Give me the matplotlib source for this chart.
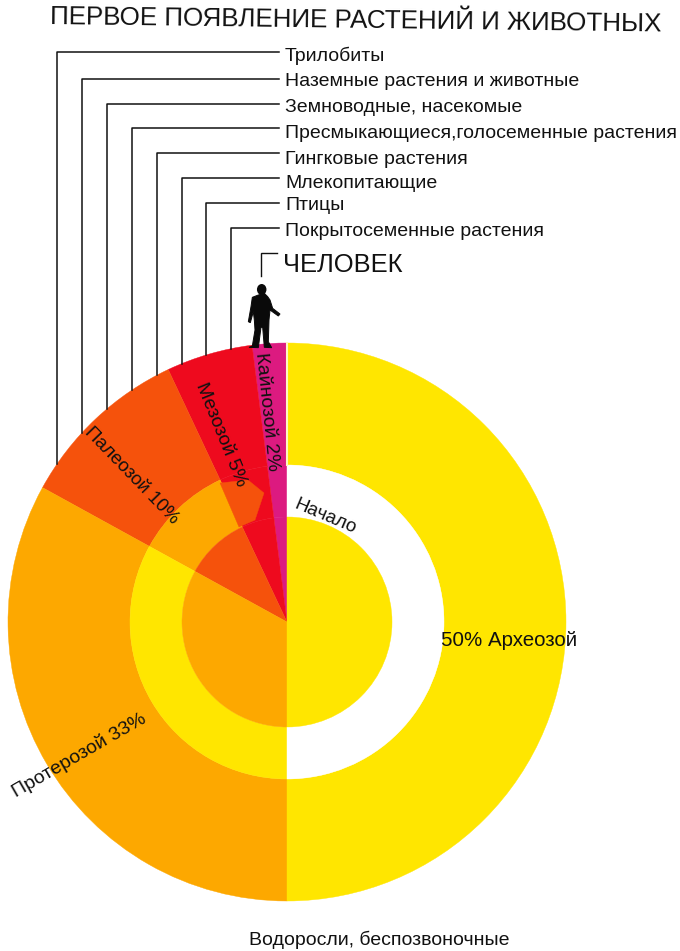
import numpy as np
import matplotlib
matplotlib.use('Agg')
import matplotlib.pyplot as plot
from matplotlib.patches import Wedge, Polygon, Ellipse

plot.rcParams['font.family'] = ['Liberation Sans', 'DejaVu Sans']

# eras, going anticlockwise from the top
eras = ['Кайнозой', 'Мезозой', 'Палеозой', 'Протерозой', 'Археозой']
shares = [2, 5, 10, 33, 50]

YEL = '#ffe600'
ORA = '#fda800'
ROR = '#f5520c'
RED = '#ee0a1e'
MAG = '#dc1a80'

outer_cols = [MAG, RED, ROR, ORA, YEL]
middle_cols = [MAG, RED, ORA, YEL, 'white']
inner_cols = [MAG, RED, ROR, ORA, YEL]

first_seen = ['Трилобиты', 'Наземные растения и животные', 'Земноводные, насекомые',
              'Пресмыкающиеся,голосеменные растения', 'Гингковые растения',
              'Млекопитающие', 'Птицы', 'Покрытосеменные растения']
leader_x = [57, 82, 107, 132, 157, 182, 206, 231]
leader_y = [52, 79, 104, 128, 153, 178, 203, 228]
label_y = [56, 82, 107, 133, 159, 183, 205, 232]

cx, cy = 287, 622
r_out, r_mid, r_in = 279, 157, 105

fig = plot.figure(figsize=[6.8, 9.51], dpi=100)
ax = fig.add_axes([0, 0, 1, 1])
ax.set_xlim(0, 680)
ax.set_ylim(951, 0)
ax.axis('off')

# y axis is flipped, so going down in angle runs anticlockwise on the page
end = -90
for i in range(len(eras)):
    start = end - shares[i] * 3.6
    ax.add_patch(Wedge((cx, cy), r_out, start, end, width=r_out - r_mid, fc=outer_cols[i], ec=outer_cols[i], lw=0.3))
    ax.add_patch(Wedge((cx, cy), r_mid, start, end, width=r_mid - r_in, fc=middle_cols[i], ec=middle_cols[i], lw=0.3))
    ax.add_patch(Wedge((cx, cy), r_in, start, end, fc=inner_cols[i], ec=inner_cols[i], lw=0.3))
    end = start

# orange block inside the mesozoic band
ax.add_patch(Polygon([(220, 483), (248, 480), (264, 493), (255, 520), (239, 527)], fc=ROR, ec=ROR, lw=0.3))
# thin gap along the top of the split
ax.plot([cx, cx], [342, 466], color='#fff6c0', lw=1.5, solid_capstyle='butt')

# leaders
for x, y, ly, lab in zip(leader_x, leader_y, label_y, first_seen):
    bottom = cy - np.sqrt(r_out ** 2 - (cx - x) ** 2)
    ax.plot([x, x, 279], [bottom, y, y], color='#111111', lw=1.1, solid_joinstyle='round')
    ax.text(285, ly, lab, fontsize=14, va='center', ha='left', color='#111111')

ax.plot([261, 261, 277], [276, 253, 253], color='#111111', lw=1.0, solid_joinstyle='miter')
ax.text(283, 265, 'ЧЕЛОВЕК', fontsize=18.4, va='center', ha='left', color='#111111')

# man
man = np.array([(100, 165), (82, 172), (78, 200), (70, 245), (76, 248), (85, 215), (88, 240), (90, 270),
                (82, 318), (72, 322), (100, 323), (108, 262), (113, 262), (118, 322), (140, 323), (130, 305),
                (132, 240), (135, 210), (160, 228), (165, 222), (143, 205), (135, 180), (128, 170), (118, 160)]) / 3.0
man = man + np.array([225, 240])
ax.add_patch(Polygon(man, fc='#0a0a0a', ec='#0a0a0a', lw=0.7))
ax.add_patch(Ellipse((261.7, 289.5), 9.5, 11, fc='#0a0a0a', ec='none'))

ax.text(356, 21, 'ПЕРВОЕ ПОЯВЛЕНИЕ РАСТЕНИЙ И ЖИВОТНЫХ', fontsize=18.7, rotation=-0.7,
        ha='center', va='center', color='#111111', rotation_mode='anchor')

era_labels = ['Кайнозой 2%', 'Мезозой 5%', 'Палеозой 10%', 'Протерозой 33%']
era_label_pos = [(267, 412), (221, 435), (131, 476), (79, 755)]
era_label_rot = [-84, -68, -46, 30]
era_label_size = [14, 14, 13.5, 14]
for lab, pos, rot, sz in zip(era_labels, era_label_pos, era_label_rot, era_label_size):
    ax.text(pos[0], pos[1], lab, fontsize=sz, rotation=rot, rotation_mode='anchor',
            ha='center', va='center', color='#111111')

ax.text(325, 517, 'Начало', fontsize=13.5, rotation=-23, rotation_mode='anchor',
        ha='center', va='center', color='#111111')
ax.text(441, 640, '50% Археозой', fontsize=14.8, ha='left', va='center', color='#111111')
ax.text(379, 940, 'Водоросли, беспозвоночные', fontsize=14, ha='center', va='center', color='#111111')

fig.savefig('out.png', dpi=100)
